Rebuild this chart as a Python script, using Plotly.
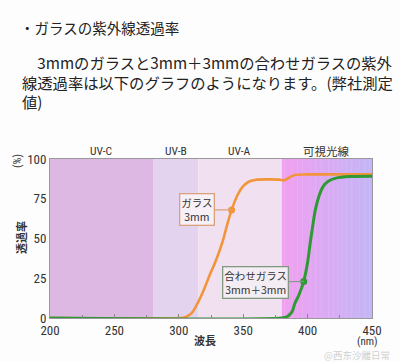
import plotly.graph_objects as go

# ---------------- data ----------------
wl_glass = [200, 300, 305, 310, 318, 324, 329, 334, 337, 341, 346, 350, 355, 360, 370, 378, 382, 386, 390, 400, 420, 450]
glass = [0, 0, 0.5, 3, 15, 27, 36.5, 48, 57, 68, 78, 83, 86, 87, 87.2, 87, 86.6, 88.5, 90, 90.3, 90.3, 90.3]

wl_lam = [200, 380, 384, 388, 390, 393, 397, 400, 402, 404, 406, 409, 412, 416, 422, 433, 450]
laminated = [0, 0, 0.8, 4, 9, 14, 23, 35, 47, 58, 68, 77, 82.6, 86, 88, 89, 89.2]

band_names = ["UV-C", "UV-B", "UV-A", "可視光線"]
band_edges = [200, 280, 315, 380, 450]

x_ticks = [200, 250, 300, 350, 400, 450]
y_ticks = [0, 25, 50, 75, 100]

marker_glass = (341, 68)
marker_lam = (397, 23)
label_glass = "ガラス<br>3mm"
label_lam = "合わせガラス<br>3mm＋3mm"

title_line = "・ガラスの紫外線透過率"
para_lines = ["　3mmのガラスと3mm＋3mmの合わせガラスの紫外",
              "線透過率は以下のグラフのようになります。(弊社測定",
              "値)"]

# ---------------- layout helpers ----------------
W, H = 400, 362
L, R, T, B = 50, 28, 159, 44
PW, PH = W - L - R, H - T - B


def px(xp):
    return (xp - L) / PW


def py(yp):
    return (H - B - yp) / PH


JP = "Noto Sans CJK JP"
NUM = "Liberation Sans Narrow, Roboto Condensed, Liberation Sans, sans-serif"

fig = go.Figure()

# background bands
shapes = []
band_colors = ["#dcb8e2", "#e3d3ee", "#f1e0f0"]
for i in range(3):
    shapes.append(dict(type="rect", xref="x", yref="y", x0=band_edges[i], x1=band_edges[i + 1],
                       y0=0, y1=100, fillcolor=band_colors[i], line_width=0, layer="below"))
# visible gradient
c0 = (240, 160, 240)
c1 = (196, 182, 246)
n = 35
x0v, x1v = band_edges[3], band_edges[4]
for k in range(n):
    t = k / (n - 1)
    col = tuple(int(round(c0[j] + (c1[j] - c0[j]) * t)) for j in range(3))
    xa = x0v + (x1v - x0v) * k / n
    xb = x0v + (x1v - x0v) * (k + 1) / n
    shapes.append(dict(type="rect", xref="x", yref="y", x0=xa, x1=xb + 0.3, y0=0, y1=100,
                       fillcolor="rgb(%d,%d,%d)" % col, line_width=0, layer="below"))

fig.add_trace(go.Scatter(x=wl_glass, y=glass, mode="lines",
                         line=dict(color="#f2953a", width=2.6, shape="spline", smoothing=0.8),
                         hoverinfo="skip", showlegend=False))
fig.add_trace(go.Scatter(x=wl_lam, y=laminated, mode="lines",
                         line=dict(color="#2f9a35", width=3, shape="spline", smoothing=0.8),
                         hoverinfo="skip", showlegend=False))
fig.add_trace(go.Scatter(x=[marker_glass[0]], y=[marker_glass[1]], mode="markers",
                         marker=dict(color="#f2953a", size=7), showlegend=False, hoverinfo="skip"))
fig.add_trace(go.Scatter(x=[marker_lam[0]], y=[marker_lam[1]], mode="markers",
                         marker=dict(color="#2f9a35", size=7), showlegend=False, hoverinfo="skip"))

ann = []


def txt(xp, yp, text, font, **kw):
    d = dict(x=px(xp), y=py(yp), xref="paper", yref="paper", text=text, showarrow=False,
             xanchor="center", yanchor="middle", font=font)
    d.update(kw)
    ann.append(d)


# band labels
for i, name in enumerate(band_names):
    cx = (band_edges[i] + band_edges[i + 1]) / 2
    ann.append(dict(x=cx, y=py(151), xref="x", yref="paper", text=name, showarrow=False,
                    xanchor="center", yanchor="middle",
                    font=dict(family=JP if i == 3 else NUM, size=11.5, color="#333")))

# callouts
ann.append(dict(x=marker_glass[0], y=marker_glass[1], xref="x", yref="y", text=label_glass,
                showarrow=True, arrowhead=0, arrowwidth=1.2, arrowcolor="#d9a27a", ax=-35, ay=0,
                standoff=0, font=dict(family=JP, size=10.5, color="#333"),
                bgcolor="#f7f0f7", bordercolor="#d9a27a", borderwidth=1.3, borderpad=1))
ann.append(dict(x=marker_lam[0], y=marker_lam[1], xref="x", yref="y", text=label_lam,
                showarrow=True, arrowhead=0, arrowwidth=1.2, arrowcolor="#7f9a80", ax=-48, ay=1,
                standoff=0, font=dict(family=JP, size=10.5, color="#333"),
                bgcolor="#f5edf4", bordercolor="#7f9a80", borderwidth=1.3, borderpad=1))

# axis titles
txt(21, 238, "<b>透過率</b>", dict(family=JP, size=11, color="#333"), textangle=-90)
txt(17, 161, "(%)", dict(family=NUM, size=11, color="#333"), textangle=-90)
txt(205, 340, "<b>波長</b>", dict(family=JP, size=11, color="#333"))
txt(367, 341, "(nm)", dict(family=NUM, size=11, color="#333"))

# text above chart
txt(18, 27, title_line, dict(family=JP, size=14.5, color="#222"), xanchor="left")
for i, line in enumerate(para_lines):
    txt(20, 62 + i * 19.5, line, dict(family=JP, size=15.3, color="#222"), xanchor="left")

# watermark
txt(392, 355, "@西东沙雕日常", dict(family=JP, size=9.5, color="#d0d0d0"), xanchor="right")

fig.update_layout(
    width=W, height=H,
    margin=dict(l=L, r=R, t=T, b=B, pad=0),
    paper_bgcolor="#fdfdfd", plot_bgcolor="#ffffff",
    shapes=shapes, annotations=ann,
    xaxis=dict(range=[200, 450], tickvals=x_ticks, ticks="inside", ticklen=4, tickcolor="#888",
               minor=dict(dtick=25, ticks="inside", ticklen=3, tickcolor="#888"),
               showgrid=False, zeroline=False, showline=True, linecolor="#999", mirror=True,
               tickfont=dict(family=NUM, size=13, color="#333"), layer="above traces"),
    yaxis=dict(range=[0, 100], tickvals=y_ticks, ticks="", showgrid=False, zeroline=False,
               showline=True, linecolor="#999", mirror=True,
               tickfont=dict(family=NUM, size=13, color="#333")),
)

fig.write_html("out.html", config={"displayModeBar": False},
               post_script="document.body.style.margin='0';document.body.style.overflow='hidden';")
